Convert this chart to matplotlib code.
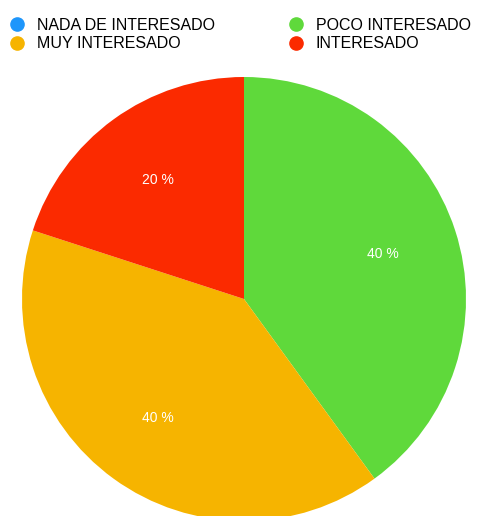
import matplotlib.pyplot as plt
from matplotlib.lines import Line2D

plt.rcParams['font.family'] = ['Liberation Sans', 'DejaVu Sans']

categorias = ['NADA DE INTERESADO', 'POCO INTERESADO', 'MUY INTERESADO', 'INTERESADO']
porcentajes = [0, 40, 40, 20]
colores = ['#1e96fb', '#5fd93b', '#f6b400', '#fb2a00']

W, H = 481, 516
fig = plt.figure(figsize=(W / 100, H / 100), dpi=100)

# pie axes: square, slightly running off the bottom edge
ax = fig.add_axes([22 / W, -5 / H, 444 / W, 444 / H])
vals = [v for v in porcentajes if v > 0]
cols = [c for v, c in zip(porcentajes, colores) if v > 0]
wedges, texts, autotexts = ax.pie(vals, colors=cols, startangle=90, counterclock=False,
                                  autopct=lambda p: '%d %%' % round(p), pctdistance=0.66,
                                  textprops={'color': 'white', 'fontsize': 10})
ax.set_xlim(-1, 1)
ax.set_ylim(-1, 1)
ax.set_aspect('equal')
for w in wedges:
    w.set_clip_on(False)

# legend: two columns
handles = [Line2D([], [], marker='o', ls='', markersize=9.5, color=c) for c in colores]
orden = [0, 2, 1, 3]
fig.legend([handles[i] for i in orden], [categorias[i] for i in orden],
           loc='upper left', bbox_to_anchor=(9.5 / W, 1 - 18 / H), ncol=2, frameon=False,
           fontsize=11.5, handletextpad=0.72, columnspacing=4.6, labelspacing=0.2,
           handlelength=1.0, borderpad=0, borderaxespad=0)

fig.savefig('out.png', dpi=100)
